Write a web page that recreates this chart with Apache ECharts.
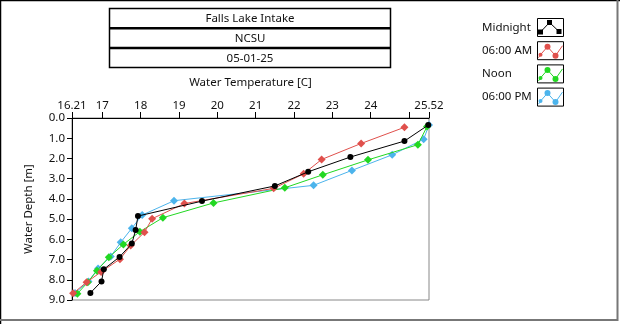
<!DOCTYPE html>
<html>
<head>
<meta charset="utf-8">
<script src="https://cdn.jsdelivr.net/npm/echarts@6/dist/echarts.min.js"></script>
<style>
html,body{margin:0;padding:0;background:#fff;}
#c{width:620px;height:324px;}
</style>
</head>
<body>
<div id="c"></div>
<script>
// ---- data ----
const titleLines = ['Falls Lake Intake', 'NCSU', '05-01-25'];
const seriesNames = ['Midnight', '06:00 AM', 'Noon', '06:00 PM'];
const seriesColors = ['#000000', '#e0504c', '#22d822', '#4cb4ec'];

const midnightDepth = [0.35, 1.14, 1.93, 2.66, 3.36, 4.11, 4.85, 5.54, 6.21, 6.87, 7.48, 8.08, 8.65];
const midnightTemp  = [25.50, 24.88, 23.47, 22.37, 21.50, 19.60, 17.93, 17.87, 17.77, 17.45, 17.04, 16.98, 16.69];

const amDepth = [0.46, 1.26, 2.05, 2.76, 3.48, 4.23, 4.98, 5.65, 6.31, 6.98, 7.61, 8.12, 8.67];
const amTemp  = [24.88, 23.75, 22.72, 22.25, 21.47, 19.14, 18.30, 18.10, 17.74, 17.46, 16.97, 16.59, 16.24];

const noonDepth = [0.42, 1.32, 2.07, 2.81, 3.45, 4.20, 4.93, 5.62, 6.25, 6.89, 7.55, 8.12, 8.69];
const noonTemp  = [25.47, 25.23, 23.93, 22.75, 21.76, 19.90, 18.58, 17.98, 17.55, 17.17, 16.86, 16.62, 16.35];

const pmDepth = [0.35, 1.05, 1.82, 2.59, 3.33, 4.09, 4.80, 5.45, 6.15, 6.85, 7.44, 8.08, 8.65];
const pmTemp  = [25.52, 25.38, 24.56, 23.51, 22.51, 18.87, 18.04, 17.77, 17.48, 17.22, 16.89, 16.64, 16.29];

const xMin = 16.21, xMax = 25.52;
const xTickValues  = [16.21, 17, 18, 19, 20, 21, 22, 23, 24, 25, 25.52];
const xLabelValues = [16.21, 17, 18, 19, 20, 21, 22, 23, 24, 25.52];
const yMin = 0, yMax = 9, yInterval = 1;

// ---- chart ----
const FONT = 'Noto Sans';
const FS = 11.5;
const chart = echarts.init(document.getElementById('c'), null, {renderer: 'canvas'});

function pairs(t, d) { return t.map((v, i) => [v, d[i]]); }

const allData = [
  {name: seriesNames[0], data: pairs(midnightTemp, midnightDepth), color: seriesColors[0], symbol: 'circle', size: 6},
  {name: seriesNames[1], data: pairs(amTemp, amDepth), color: seriesColors[1], symbol: 'diamond', size: 8},
  {name: seriesNames[2], data: pairs(noonTemp, noonDepth), color: seriesColors[2], symbol: 'diamond', size: 8},
  {name: seriesNames[3], data: pairs(pmTemp, pmDepth), color: seriesColors[3], symbol: 'diamond', size: 8}
];
const drawOrder = [3, 2, 1, 0];

const series = drawOrder.map((k, z) => ({
  name: allData[k].name,
  type: 'line',
  data: allData[k].data,
  symbol: allData[k].symbol,
  symbolSize: allData[k].size,
  showAllSymbol: true,
  z: 2 + z,
  lineStyle: {color: allData[k].color, width: 1},
  itemStyle: {color: allData[k].color, borderWidth: 0},
  emphasis: {disabled: true},
  animation: false
}));

// decorations: frame, title boxes, legend
const graphics = [];
graphics.push({type: 'line', shape: {x1: 0, y1: 0.5, x2: 620, y2: 0.5}, style: {stroke: '#000', lineWidth: 1.5}});
graphics.push({type: 'line', shape: {x1: 0.5, y1: 0, x2: 0.5, y2: 324}, style: {stroke: '#000', lineWidth: 1.5}});
graphics.push({type: 'line', shape: {x1: 617.5, y1: 0, x2: 617.5, y2: 321}, style: {stroke: '#777', lineWidth: 2}});
graphics.push({type: 'line', shape: {x1: 0, y1: 320, x2: 618, y2: 320}, style: {stroke: '#777', lineWidth: 2}});

const tbX = 109.5, tbW = 281, tbY = 8.5, rowH = 19.7;
graphics.push({type: 'rect', shape: {x: tbX, y: tbY, width: tbW, height: rowH * 3}, style: {fill: '#fff', stroke: '#000', lineWidth: 1.5}});
for (let i = 1; i < 3; i++) {
  graphics.push({type: 'line', shape: {x1: tbX, y1: tbY + rowH * i, x2: tbX + tbW, y2: tbY + rowH * i}, style: {stroke: '#000', lineWidth: 2.5}});
}
titleLines.forEach((t, i) => {
  graphics.push({type: 'text', x: tbX + tbW / 2, y: tbY + rowH * i + rowH / 2 + 0.5,
    style: {text: t, fill: '#111', font: FS + 'px "' + FONT + '"', align: 'center', verticalAlign: 'middle'}});
});

const lgTextX = 482, lgBoxX = 537.5, lgBoxW = 26, lgBoxH = 18;
const lgY0 = 27.5, lgStep = 23.2;
seriesNames.forEach((n, i) => {
  const cy = lgY0 + lgStep * i;
  graphics.push({type: 'text', x: lgTextX, y: cy,
    style: {text: n, fill: '#111', font: FS + 'px "' + FONT + '"', align: 'left', verticalAlign: 'middle'}});
  const bx = lgBoxX, by = cy - lgBoxH / 2;
  graphics.push({type: 'rect', shape: {x: bx, y: by, width: lgBoxW, height: lgBoxH}, style: {fill: '#fff', stroke: '#000', lineWidth: 1}});
  const col = seriesColors[i];
  if (i === 0) {
    const pts = [[bx + 3, by + 13.5], [bx + 12, by + 4], [bx + 21.5, by + 13]];
    graphics.push({type: 'polyline', shape: {points: pts}, style: {stroke: col, lineWidth: 1, fill: null}});
    pts.forEach(p => graphics.push({type: 'rect', shape: {x: p[0] - 2.5, y: p[1] - 2.5, width: 5, height: 5}, style: {fill: col}}));
  } else {
    const pts = [[bx + 1, by + 16], [bx + 3, by + 13], [bx + 10, by + 5], [bx + 18, by + 14], [bx + 25, by + 4]];
    graphics.push({type: 'polyline', shape: {points: pts}, style: {stroke: col, lineWidth: 1, fill: null}});
    [[bx + 3, by + 13, 2], [bx + 10, by + 5, 3], [bx + 18, by + 14, 3]].forEach(p =>
      graphics.push({type: 'circle', shape: {cx: p[0], cy: p[1], r: p[2]}, style: {fill: col}}));
  }
});

const option = {
  backgroundColor: '#fff',
  animation: false,
  textStyle: {fontFamily: FONT},
  grid: {left: 72, top: 118, width: 357, height: 182, show: true, borderColor: '#888', borderWidth: 1, backgroundColor: '#fff'},
  xAxis: {
    type: 'value',
    position: 'top',
    min: xMin,
    max: xMax,
    name: 'Water Temperature [C]',
    nameLocation: 'middle',
    nameGap: 29,
    nameTextStyle: {color: '#111', fontSize: FS, fontFamily: FONT},
    axisLine: {show: true, lineStyle: {color: '#000', width: 1}},
    axisTick: {show: true, length: 6, customValues: xTickValues, lineStyle: {color: '#000'}},
    axisLabel: {show: true, customValues: xLabelValues, margin: 6, color: '#111', fontSize: FS, fontFamily: FONT,
      formatter: v => String(v)},
    splitLine: {show: false}
  },
  yAxis: {
    type: 'value',
    inverse: true,
    min: yMin,
    max: yMax,
    interval: yInterval,
    name: 'Water Depth [m]',
    nameLocation: 'middle',
    nameGap: 37,
    nameTextStyle: {color: '#111', fontSize: FS, fontFamily: FONT},
    axisLine: {show: true, lineStyle: {color: '#000', width: 1}},
    axisTick: {show: true, length: 5, lineStyle: {color: '#000'}},
    axisLabel: {margin: 7, color: '#111', fontSize: FS, fontFamily: FONT, formatter: v => v.toFixed(1)},
    splitLine: {show: false}
  },
  series: series,
  graphic: graphics
};
chart.setOption(option);
</script>
</body>
</html>
